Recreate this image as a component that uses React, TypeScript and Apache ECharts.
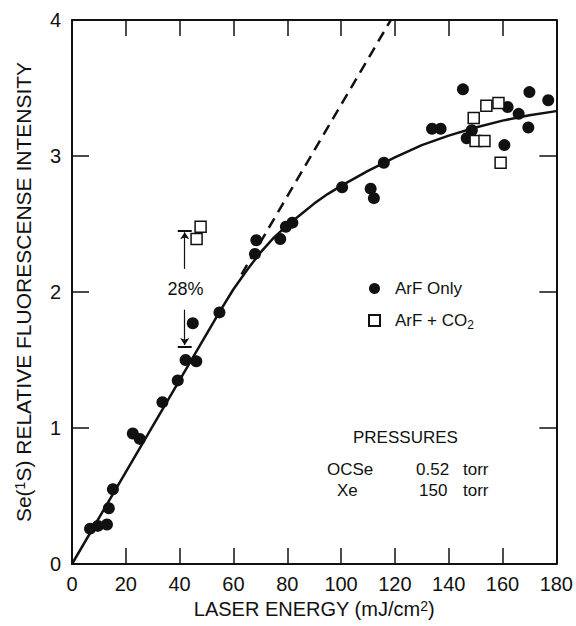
import React, { useEffect, useRef } from "react";
import * as echarts from "echarts";

// ArF only (filled circles)
const arfOnlyX = [6.7, 9.6, 13.0, 13.7, 15.2, 22.6, 25.2, 33.6, 39.3, 42.2, 46.2, 44.9, 54.8, 68.5, 68.0, 77.4, 79.5, 81.9, 100.4, 111.0, 112.2, 115.9, 133.8, 137.0, 145.3, 146.7, 148.6, 160.7, 161.9, 166.0, 169.6, 170.0, 177.0];
const arfOnlyY = [0.26, 0.28, 0.29, 0.41, 0.55, 0.96, 0.92, 1.19, 1.35, 1.50, 1.49, 1.77, 1.85, 2.38, 2.28, 2.39, 2.48, 2.51, 2.77, 2.76, 2.69, 2.95, 3.20, 3.20, 3.49, 3.13, 3.19, 3.08, 3.36, 3.31, 3.21, 3.47, 3.41];

// ArF + CO2 (open squares)
const co2X = [47.8, 46.3, 149.3, 150.0, 153.3, 154.0, 158.5, 159.3];
const co2Y = [2.48, 2.39, 3.28, 3.11, 3.11, 3.37, 3.39, 2.95];

// solid fitted curve
const fitX = [0, 50, 55, 60, 65, 70, 75, 80, 85, 90, 95, 100, 110, 120, 130, 140, 150, 160, 170, 180];
const fitY = [0, 1.69, 1.86, 2.02, 2.16, 2.29, 2.40, 2.49, 2.57, 2.65, 2.72, 2.78, 2.89, 2.99, 3.08, 3.15, 3.21, 3.26, 3.30, 3.33];

// dashed linear extrapolation
const dashX = [63, 118.5];
const dashY = [2.13, 4.0];

// 28% annotation
const annX = 41.9;
const annTop = 2.45;
const annBottom = 1.6;
const annLabelY = 2.02;
const annLabel = "28%";

const xMin = 0, xMax = 180, xStep = 20;
const yMin = 0, yMax = 4, yStep = 1;

const legendNames = ["ArF Only", "ArF + CO2"];
const pressureTitle = "PRESSURES";
const pressureGas = ["OCSe", "Xe"];
const pressureVal = ["0.52", "150"];
const pressureUnit = "torr";

const FONT = "'Liberation Sans', Arial, Helvetica, sans-serif";
const INK = "#111";

export default function App() {
  const ref = useRef<HTMLDivElement>(null);
  useEffect(() => {
    document.body.style.margin = "0";
    const chart = echarts.init(ref.current!, undefined, { renderer: "svg" });
    const zip = (xs: number[], ys: number[]) => xs.map((x, i) => [x, ys[i]]);
    const axisCommon = {
      type: "value" as const,
      axisLine: { show: true, onZero: false, lineStyle: { color: INK, width: 2 } },
      axisTick: { show: true, inside: true, length: 16, lineStyle: { color: INK, width: 1.5 } },
      splitLine: { show: false },
    };
    const txt = (text: string, left: number, top: number) => ({
      type: "text", left, top,
      style: { text, fontSize: 17, fill: INK, fontFamily: FONT },
    });
    chart.setOption({
      animation: false,
      backgroundColor: "#fff",
      textStyle: { fontFamily: FONT, color: INK },
      grid: { left: 72, right: 18, top: 20, bottom: 62 },
      legend: {
        orient: "vertical",
        left: 363,
        top: 275,
        itemGap: 15,
        itemWidth: 11,
        itemHeight: 11,
        data: legendNames,
        textStyle: {
          fontFamily: FONT,
          fontSize: 17,
          color: INK,
          rich: {
            gap: { width: 10 },
            sub: { fontSize: 12, verticalAlign: "bottom", padding: [9, 0, 0, 0], fontFamily: FONT, color: INK },
          },
        },
        formatter: (n: string) => "{gap|}" + (n === "ArF + CO2" ? "ArF + CO{sub|2}" : n),
      },
      xAxis: [
        {
          ...axisCommon,
          min: xMin, max: xMax, interval: xStep,
          position: "bottom",
          axisLabel: { fontSize: 20, margin: 10, color: INK, fontFamily: FONT },
          name: "LASER ENERGY (mJ/cm{sup|2})",
          nameLocation: "middle",
          nameGap: 29,
          nameTextStyle: {
            fontSize: 20, color: INK, fontFamily: FONT,
            rich: { sup: { fontSize: 14, verticalAlign: "top", padding: [0, 0, 7, 0], fontFamily: FONT, color: INK } },
          },
        },
        {
          ...axisCommon,
          min: xMin, max: xMax, interval: xStep,
          position: "top",
          axisLabel: { show: false },
        },
      ],
      yAxis: [
        {
          ...axisCommon,
          min: yMin, max: yMax, interval: yStep,
          position: "left",
          axisTick: { show: true, inside: true, length: 17, lineStyle: { color: INK, width: 1.5 } },
          axisLabel: { fontSize: 20, margin: 11, color: INK, fontFamily: FONT },
          name: "Se({sup|1}S) RELATIVE FLUORESCENSE INTENSITY",
          nameLocation: "middle",
          nameGap: 38,
          nameTextStyle: {
            fontSize: 21, color: INK, fontFamily: FONT,
            rich: { sup: { fontSize: 14, verticalAlign: "top", padding: [0, 0, 7, 0], fontFamily: FONT, color: INK } },
          },
        },
        {
          ...axisCommon,
          min: yMin, max: yMax, interval: yStep,
          position: "right",
          axisTick: { show: true, inside: true, length: 17, lineStyle: { color: INK, width: 1.5 } },
          axisLabel: { show: false },
        },
      ],
      series: [
        {
          name: "fit",
          type: "line",
          data: zip(fitX, fitY),
          smooth: false,
          showSymbol: false,
          symbol: "none",
          lineStyle: { color: INK, width: 2.5, join: "round" },
          z: 3,
        },
        {
          name: "extrapolation",
          type: "line",
          data: zip(dashX, dashY),
          showSymbol: false,
          symbol: "none",
          lineStyle: { color: INK, width: 2.5, type: [11, 7] },
          z: 3,
        },
        {
          name: "ArF Only",
          type: "scatter",
          data: zip(arfOnlyX, arfOnlyY),
          symbol: "circle",
          symbolSize: 12,
          itemStyle: { color: INK, opacity: 1 },
          z: 4,
        },
        {
          name: "ArF + CO2",
          type: "scatter",
          data: zip(co2X, co2Y),
          symbol: "rect",
          symbolSize: 11,
          itemStyle: { color: "#fff", borderColor: INK, borderWidth: 1.5, opacity: 1 },
          z: 5,
        },
        {
          name: "annotation-arrows",
          type: "lines",
          coordinateSystem: "cartesian2d",
          polyline: false,
          symbol: ["none", "arrow"],
          symbolSize: 7,
          lineStyle: { color: INK, width: 1.2, opacity: 1 },
          data: [
            { coords: [[annX, annLabelY + 0.15], [annX, annTop - 0.01]] },
            { coords: [[annX, annLabelY - 0.15], [annX, annBottom + 0.01]] },
          ],
          z: 6,
        },
        {
          name: "annotation-bars",
          type: "lines",
          coordinateSystem: "cartesian2d",
          symbol: "none",
          lineStyle: { color: INK, width: 2, opacity: 1 },
          data: [
            { coords: [[annX - 2.6, annTop], [annX + 2.6, annTop]] },
            { coords: [[annX - 2.6, annBottom], [annX + 2.6, annBottom]] },
          ],
          z: 6,
        },
        {
          name: "annotation-label",
          type: "scatter",
          data: [[annX + 0.3, annLabelY]],
          symbolSize: 1,
          itemStyle: { color: "rgba(0,0,0,0)", opacity: 1 },
          label: { show: true, position: "inside", formatter: annLabel, fontSize: 18, color: INK, fontFamily: FONT },
          z: 6,
        },
      ],
      graphic: [
        txt(pressureTitle, 353, 429),
        txt(pressureGas[0], 327, 461),
        txt(pressureGas[1], 337, 482),
        txt(pressureVal[0], 416, 461),
        txt(pressureVal[1], 419, 482),
        txt(pressureUnit, 463, 461),
        txt(pressureUnit, 463, 482),
      ],
    });
    return () => chart.dispose();
  }, []);
  return <div ref={ref} style={{ width: 576, height: 626 }} />;
}
